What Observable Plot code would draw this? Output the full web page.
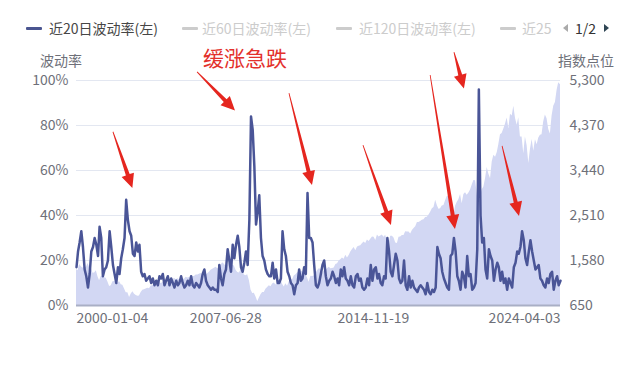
<!DOCTYPE html>
<html><head><meta charset="utf-8">
<script src="https://cdn.jsdelivr.net/npm/d3@7"></script>
<script src="https://cdn.jsdelivr.net/npm/@observablehq/plot@0.6"></script>
<style>
body{margin:0;background:#fff;font-family:"Noto Sans CJK SC","Noto Sans",sans-serif;}
#wrap{position:relative;width:640px;height:366px;overflow:hidden;background:#fff;}
#wrap svg{position:absolute;left:0;top:0;}
.t{position:absolute;white-space:nowrap;height:20px;line-height:20px;font-size:14px;}
.mk{position:absolute;height:3px;border-radius:1px;}
</style></head><body><div id="wrap"></div>
<script>
// ---- data ----
const startDate = "2000-01-04";
const endDate = "2024-04-03";
// 20-day volatility (%), monthly, Jan 2000 .. Apr 2024
const volatility = [
  17,24,28,33,26,16,13,8,14,24,26,30,   // 2000
  27,22,35,30,13,16,17,20,33,26,18,14,  // 2001
  10,17,14,21,25,30,47,38,33,31,23,22,  // 2002
  28,24,27,15,13,14,11,12,13,10,12,9,   // 2003
  11,9,13,12,14,9,11,13,9,12,10,8,      // 2004
  11,9,10,13,10,8,9,11,9,13,9,8,        // 2005
  10,9,8,10,14,16,11,9,8,7,8,7,         // 2006
  7,6,18,12,9,14,16,25,20,15,27,21,     // 2007
  27,31,26,17,15,19,24,18,38,84,78,62,  // 2008
  36,42,49,30,22,20,16,14,13,13,19,12,  // 2009
  16,10,10,12,33,25,22,15,13,10,9,5,    // 2010
  9,10,16,11,12,17,14,50,30,30,28,18,   // 2011
  9,8,10,14,18,20,13,9,11,12,15,13,     // 2012
  10,12,9,16,13,17,12,11,9,13,9,8,      // 2013
  13,14,11,12,8,7,8,12,9,18,11,16,      // 2014
  17,12,14,10,9,13,12,30,24,15,13,18,   // 2015
  23,20,12,10,11,20,9,7,13,8,11,8,      // 2016
  7,6,8,9,8,7,5,10,6,5,7,6,             // 2017
  8,26,23,21,15,12,10,8,7,22,23,30,     // 2018
  24,13,11,7,15,13,8,22,13,14,7,8,      // 2019
  10,25,96,40,28,30,16,12,25,22,20,11,  // 2020
  16,19,17,11,15,10,12,7,12,10,8,17,    // 2021
  19,24,23,26,33,29,21,18,24,29,24,20,  // 2022
  16,17,18,12,11,9,8,12,10,14,15,7,     // 2023
  11,13,9,11                            // 2024
];
// index level (points), monthly, Jan 2000 .. Apr 2024
const indexLevel = [
  1394,1366,1499,1452,1421,1455,1431,1518,1437,1429,1315,1320,
  1366,1240,1160,1249,1256,1224,1211,1134,1041,1060,1139,1148,
  1130,1107,1147,1077,1067,990,912,916,815,886,936,880,
  856,841,848,917,964,975,990,1008,996,1051,1058,1112,
  1131,1145,1126,1107,1121,1141,1102,1104,1115,1130,1174,1212,
  1181,1204,1181,1157,1192,1191,1234,1220,1229,1207,1249,1248,
  1280,1281,1295,1311,1270,1270,1277,1304,1336,1378,1401,1418,
  1438,1407,1421,1482,1531,1503,1455,1474,1527,1549,1481,1468,
  1379,1331,1323,1386,1400,1280,1267,1283,1166,969,896,903,
  826,735,798,873,919,919,987,1021,1057,1036,1096,1115,
  1074,1104,1169,1187,1089,1031,1102,1049,1141,1183,1181,1258,
  1286,1327,1326,1364,1345,1321,1292,1219,1131,1253,1247,1258,
  1312,1366,1408,1398,1310,1362,1379,1407,1441,1412,1416,1426,
  1498,1515,1569,1598,1631,1606,1686,1633,1682,1757,1806,1848,
  1783,1859,1872,1884,1924,1960,1931,2003,1972,2018,2068,2059,
  1995,2105,2068,2086,2107,2063,2104,1972,1920,2079,2080,2044,
  1940,1932,2060,2065,2097,2099,2174,2171,2168,2126,2199,2239,
  2279,2364,2363,2384,2412,2423,2470,2472,2519,2575,2648,2674,
  2824,2714,2641,2648,2705,2718,2816,2902,2914,2712,2760,2507,
  2704,2784,2834,2946,2752,2942,2980,2926,2977,3038,3141,3231,
  3226,2954,2585,2912,3044,3100,3271,3500,3363,3270,3622,3756,
  3714,3811,3973,4181,4204,4298,4395,4523,4308,4605,4567,4766,
  4516,4374,4530,4132,4132,3785,4130,3955,3586,3872,4080,3840,
  4077,3970,4109,4169,4180,4450,4589,4508,4288,4194,4568,4770,
  4846,5096,5254,5211
];
const leftTicks = [0,20,40,60,80,100];
const rightTicks = [650,1580,2510,3440,4370,5300];
const xTickLabels = ["2000-01-04","2007-06-28","2014-11-19","2024-04-03"];
const legendItems = ["近20日波动率(左)","近60日波动率(左)","近120日波动率(左)","近25"];
const annotationText = "缓涨急跌";
// arrows: tail (date, %) -> head (date, %)
const arrowTail = [["2001-11-10",77],["2006-01-27",103.6],["2010-09-05",94.2],["2014-05-21",71.1],["2017-10-01",102.2],["2018-12-11",112.4],["2021-05-09",70.7]];
const arrowHead = [["2002-10-31",52],["2007-12-22",86.4],["2011-10-31",53.3],["2015-10-15",35.6],["2018-12-29",33.8],["2019-06-11",96.2],["2022-03-15",39.6]];

// ---- build ----
const parse = d3.utcParse("%Y-%m-%d");
const monthly = d3.utcMonth.range(new Date(Date.UTC(2000,1,1)), new Date(Date.UTC(2024,3,1)));
const dates = [parse(startDate), ...monthly, parse(endDate)];
const idxMin = rightTicks[0], idxMax = rightTicks[rightTicks.length-1];
const toLeft = v => (v - idxMin) / (idxMax - idxMin) * 100;
const data = dates.map((d,i) => ({date:d, vol:volatility[i], idx:indexLevel[i]}));
const xTicks = xTickLabels.map(parse);
const arrows = arrowTail.map((t,i) => ({x1:parse(t[0]), y1:t[1], x2:parse(arrowHead[i][0]), y2:arrowHead[i][1]}));
const RED = "#e5261f";
const LABEL = "#6e7079";

const chart = Plot.plot({
  width:640, height:366,
  marginTop:80, marginBottom:61, marginLeft:76, marginRight:80,
  style:{fontFamily:'"Noto Sans CJK SC","Noto Sans",sans-serif', fontSize:"14px", background:"transparent", overflow:"visible"},
  x:{type:"utc", domain:[dates[0], dates[dates.length-1]], axis:null},
  y:{domain:[0,100], axis:null},
  marks:[
    Plot.gridY(leftTicks.slice(1), {stroke:"#e3e7f1", strokeOpacity:1, strokeWidth:1}),
    Plot.areaY(data, {x:"date", y:d => toLeft(d.idx), fill:"#d2d7f3", fillOpacity:1}),
    Plot.ruleY([0], {stroke:"#a9afc5", strokeWidth:2}),
    Plot.line(data, {x:"date", y:"vol", stroke:"#4a5597", strokeWidth:2.5, strokeLinejoin:"round"}),
    Plot.axisY(leftTicks, {anchor:"left", tickSize:0, tickPadding:8, tickFormat:d => d + "%", fill:LABEL, fontSize:14, label:null}),
    Plot.axisY(rightTicks.map(toLeft), {anchor:"right", tickSize:0, tickPadding:9, tickFormat:d => d3.format(",")(Math.round(idxMin + d/100*(idxMax-idxMin))), fill:LABEL, fontSize:14, label:null}),
    Plot.text(xTicks.slice(0,1), {x:d=>d, frameAnchor:"bottom", dy:17, text:(d,i)=>xTickLabels[0], textAnchor:"start", fill:LABEL, fontSize:14}),
    Plot.text(xTicks.slice(1,3), {x:d=>d, frameAnchor:"bottom", dy:17, text:(d,i)=>xTickLabels[i+1], textAnchor:"middle", fill:LABEL, fontSize:14}),
    Plot.text(xTicks.slice(3), {x:d=>d, frameAnchor:"bottom", dy:17, text:(d,i)=>xTickLabels[3], textAnchor:"end", fill:LABEL, fontSize:14}),
    Plot.link(arrows, {x1:"x1", y1:"y1", x2:"x2", y2:"y2", stroke:RED, strokeWidth:2,
      render(index, scales, values) {
        const g = d3.create("svg:g");
        for (const i of index) {
          const x1=values.x1[i], y1=values.y1[i], x2=values.x2[i], y2=values.y2[i];
          const dx=x2-x1, dy=y2-y1, L=Math.hypot(dx,dy), ux=dx/L, uy=dy/L, nx=-uy, ny=ux;
          const hl=14, hw=6.5, bx=x2-ux*hl, by=y2-uy*hl, t0=0.4, t1=2;
          const p = [[x1+nx*t0,y1+ny*t0],[bx+nx*t1,by+ny*t1],[bx+nx*hw,by+ny*hw],[x2,y2],[bx-nx*hw,by-ny*hw],[bx-nx*t1,by-ny*t1],[x1-nx*t0,y1-ny*t0]];
          g.append("path").attr("d","M"+p.map(q=>q[0].toFixed(2)+","+q[1].toFixed(2)).join("L")+"Z").attr("fill",RED);
        }
        return g.node();
      }})
  ]
});
const wrap = document.getElementById("wrap");
wrap.appendChild(chart);

function addText(txt, left, cy, color, size, extra) {
  const el = document.createElement("div");
  el.className = "t"; el.textContent = txt;
  el.style.left = left + "px"; el.style.top = (cy - 10) + "px";
  el.style.color = color; if (size) el.style.fontSize = size + "px";
  if (extra) Object.assign(el.style, extra);
  wrap.appendChild(el); return el;
}
function addMarker(left, w, color) {
  const el = document.createElement("div");
  el.className = "mk"; el.style.left = left + "px"; el.style.top = "27px";
  el.style.width = w + "px"; el.style.background = color; wrap.appendChild(el);
}
// legend
const legendX = [[26,49],[182,202],[336,359],[500,522]];
legendItems.forEach((s,i) => {
  const on = i === 0;
  addMarker(legendX[i][0], 16, on ? "#4a5590" : "#cccccc");
  addText(s, legendX[i][1], 28, on ? "#464646" : "#cccccc", 14);
});
// pager
const triL = document.createElement("div");
Object.assign(triL.style,{position:"absolute",left:"563px",top:"24px",width:"0",height:"0",borderTop:"4px solid transparent",borderBottom:"4px solid transparent",borderRight:"5px solid #aaaaaa"});
wrap.appendChild(triL);
addText("1/2", 575, 28, "#333333", 14);
const triR = document.createElement("div");
Object.assign(triR.style,{position:"absolute",left:"604px",top:"24px",width:"0",height:"0",borderTop:"4px solid transparent",borderBottom:"4px solid transparent",borderLeft:"5px solid #2f4554"});
wrap.appendChild(triR);
// axis titles
addText("波动率", 40, 60, LABEL, 14);
addText("指数点位", 558, 60, LABEL, 14);
// annotation
addText(annotationText, 203, 57, "#e3312c", 21);
</script></body></html>
